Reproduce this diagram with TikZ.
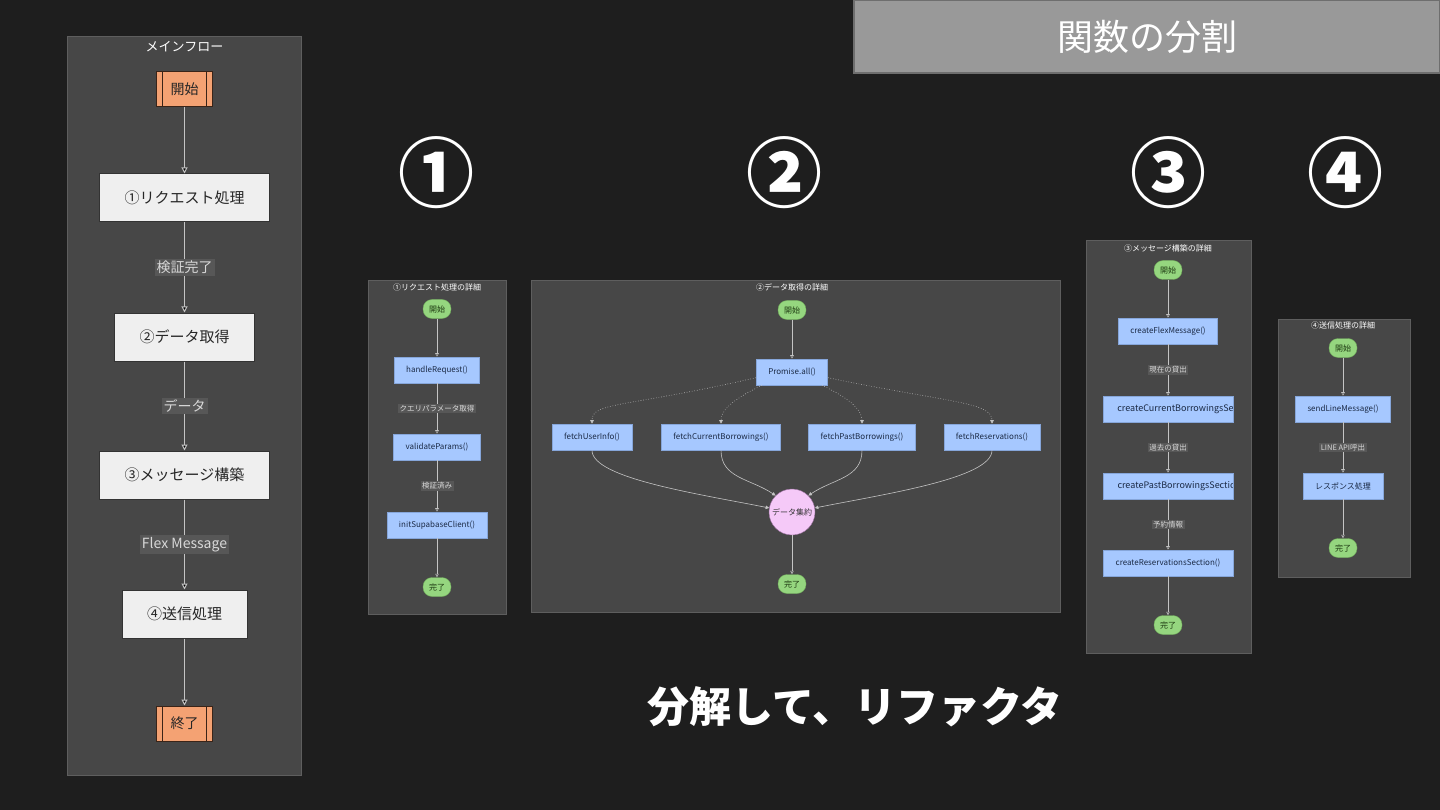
\documentclass[tikz,border=0pt]{standalone}
\usepackage{fontspec}
\setmainfont{Noto Sans CJK JP}
\usetikzlibrary{arrows.meta}
\definecolor{bgdark}{HTML}{1E1E1E}
\definecolor{panelfill}{HTML}{474747}
\definecolor{paneledge}{HTML}{5E5E5E}
\definecolor{termfill}{HTML}{F4A273}
\definecolor{termedge}{HTML}{3A2418}
\definecolor{stepfill}{HTML}{EFEFEF}
\definecolor{stepedge}{HTML}{333333}
\definecolor{fnfill}{HTML}{A6C8FF}
\definecolor{fnedge}{HTML}{86A6DA}
\definecolor{fntext}{HTML}{1B2A45}
\definecolor{pillfill}{HTML}{95D67F}
\definecolor{pilledge}{HTML}{6FA85A}
\definecolor{pilltext}{HTML}{1E3A12}
\definecolor{joinfill}{HTML}{F5C9F8}
\definecolor{joinedge}{HTML}{9B6FA0}
\definecolor{linkgray}{HTML}{C4C4C4}
\definecolor{tagfill}{HTML}{575757}
\definecolor{tagtext}{HTML}{D8D8D8}
\definecolor{headfill}{HTML}{999999}
\definecolor{headedge}{HTML}{6E6E6E}
\tikzset{
  panel/.style={draw=paneledge, fill=panelfill, line width=1pt},
  paneltitle/.style={text=white, inner sep=1pt, font=\fontsize{8}{9}\selectfont},
  term/.style={draw=termedge, fill=termfill, line width=1pt, minimum width=56pt,
    minimum height=35pt, text=black!85, font=\fontsize{14}{16}\selectfont,
    path picture={\draw[termedge, line width=1pt]
      ([xshift=6pt]path picture bounding box.north west) -- ([xshift=6pt]path picture bounding box.south west)
      ([xshift=-6pt]path picture bounding box.north east) -- ([xshift=-6pt]path picture bounding box.south east);}},
  stepbox/.style={draw=stepedge, fill=stepfill, line width=1pt, inner xsep=25pt,
    minimum height=48pt, text=black!85, font=\fontsize{15}{17}\selectfont},
  mainlink/.style={draw=linkgray, line width=1pt, -{Triangle[length=6pt,width=6pt]}},
  maintag/.style={fill=tagfill, text=tagtext, inner sep=2pt, font=\fontsize{14}{16}\selectfont},
  fnbox/.style={draw=fnedge, fill=fnfill, line width=0.6pt, inner xsep=12pt,
    minimum height=26pt, text=fntext, font=\fontsize{8}{9}\selectfont},
  cutbox/.style={fnbox, minimum width=130pt,
    path picture={\node[anchor=west, inner sep=0pt, text=fntext, font=\fontsize{9}{10}\selectfont]
      at ([xshift=14pt]path picture bounding box.west) {#1};}},
  pill/.style={draw=pilledge, fill=pillfill, rounded corners=9pt, minimum height=19pt,
    minimum width=28pt, inner xsep=4pt, text=pilltext, font=\fontsize{8}{9}\selectfont},
  joinnode/.style={circle, draw=joinedge, fill=joinfill, minimum size=46pt, inner sep=0pt,
    text=black!80, font=\fontsize{8}{9}\selectfont},
  sublink/.style={draw=linkgray, line width=0.6pt, -{Triangle[length=3.5pt,width=3.5pt]}},
  subtag/.style={fill=tagfill, text=tagtext, inner sep=1.5pt, font=\fontsize{7.5}{9}\selectfont},
  headbox/.style={draw=headedge, fill=headfill, line width=1.5pt, text=white,
    minimum width=586pt, minimum height=73pt, font=\fontsize{36}{40}\selectfont},
  bignum/.style={text=white, font=\fontsize{76}{80}\selectfont\bfseries}
}
\begin{document}
\begin{tikzpicture}[x=1pt,y=1pt]
  \fill[bgdark] (0,0) rectangle (1440,-810);
  \useasboundingbox (0,0) rectangle (1440,-810);
  \node[headbox] (head) at (1147,-36.5) {関数の分割};

  \draw[panel] (67,-37) rectangle (301,-775);
  \node[paneltitle, font=\fontsize{13}{15}\selectfont] (mtitle) at (184.5,-47) {メインフロー};
  \node[term] (mstart) at (184.5,-89) {開始};
  \node[stepbox] (mreq) at (184.5,-198) {①リクエスト処理};
  \node[stepbox] (mfetch) at (184.5,-337) {②データ取得};
  \node[stepbox] (mbuild) at (184.5,-475) {③メッセージ構築};
  \node[stepbox] (msend) at (184.5,-614) {④送信処理};
  \node[term] (mstop) at (184.5,-723.5) {終了};
  \path[mainlink]
    (mstart) edge (mreq)
    (mreq) edge node[maintag] {検証完了} (mfetch)
    (mfetch) edge node[maintag] {データ} (mbuild)
    (mbuild) edge node[maintag] {Flex Message} (msend)
    (msend) edge (mstop);

  \node[bignum] (num1) at (436,-173) {①};
  \node[bignum] (num2) at (784,-173) {②};
  \node[bignum] (num3) at (1168,-173) {③};
  \node[bignum] (num4) at (1345,-173) {④};

  \draw[panel] (368,-281) rectangle (506,-614);
  \node[paneltitle] (rtitle) at (437,-287) {①リクエスト処理の詳細};
  \node[pill] (rstart) at (437,-309) {開始};
  \node[fnbox] (rhandle) at (437,-370) {handleRequest()};
  \node[fnbox] (rvalid) at (437,-447) {validateParams()};
  \node[fnbox] (rinit) at (437,-525) {initSupabaseClient()};
  \node[pill] (rdone) at (437,-587) {完了};
  \path[sublink]
    (rstart) edge (rhandle)
    (rhandle) edge node[subtag] {クエリパラメータ取得} (rvalid)
    (rvalid) edge node[subtag] {検証済み} (rinit)
    (rinit) edge (rdone);

  \draw[panel] (531,-281) rectangle (1060,-612);
  \node[paneltitle] (dtitle) at (792,-287) {②データ取得の詳細};
  \node[pill] (dstart) at (792,-310) {開始};
  \node[fnbox] (dall) at (792,-372) {Promise.all()};
  \node[fnbox] (duser) at (592,-437) {fetchUserInfo()};
  \node[fnbox] (dcur) at (721,-437) {fetchCurrentBorrowings()};
  \node[fnbox] (dpast) at (862,-437) {fetchPastBorrowings()};
  \node[fnbox] (dresv) at (992,-437) {fetchReservations()};
  \node[joinnode] (dagg) at (792,-512) {データ集約};
  \node[pill] (ddone) at (792,-584) {完了};
  \path[sublink]
    (dstart) edge (dall)
    (dagg) edge (ddone);
  \draw[sublink, dotted] (dall.189) .. controls +(-130,-30) and +(0,22) .. (duser.north);
  \draw[sublink, dotted] ([xshift=6pt]dall.south west) .. controls +(-25,-12) and +(0,15) .. (dcur.north);
  \draw[sublink, dotted] ([xshift=-6pt]dall.south east) .. controls +(25,-12) and +(0,15) .. (dpast.north);
  \draw[sublink, dotted] (dall.351) .. controls +(120,-25) and +(0,22) .. (dresv.north);
  \draw[sublink] (duser.south) .. controls +(0,-28) and +(-70,14) .. (dagg.170);
  \draw[sublink] (dcur.south) .. controls +(0,-28) and +(-25,17) .. (dagg.135);
  \draw[sublink] (dpast.south) .. controls +(0,-28) and +(25,17) .. (dagg.45);
  \draw[sublink] (dresv.south) .. controls +(0,-28) and +(70,14) .. (dagg.10);

  \draw[panel] (1086,-241) rectangle (1251,-653);
  \node[paneltitle] (btitle) at (1168,-248) {③メッセージ構築の詳細};
  \node[pill] (bstart) at (1168,-270) {開始};
  \node[fnbox] (bflex) at (1168,-331) {createFlexMessage()};
  \node[cutbox={createCurrentBorrowingsSection()}] (bcur) at (1168,-409) {};
  \node[cutbox={createPastBorrowingsSection()}] (bpast) at (1168,-486) {};
  \node[fnbox, minimum width=130pt] (bresv) at (1168,-563) {createReservationsSection()};
  \node[pill] (bdone) at (1168,-625) {完了};
  \path[sublink]
    (bstart) edge (bflex)
    (bflex) edge node[subtag] {現在の貸出} (bcur)
    (bcur) edge node[subtag] {過去の貸出} (bpast)
    (bpast) edge node[subtag] {予約情報} (bresv)
    (bresv) edge (bdone);

  \draw[panel] (1278,-319) rectangle (1410,-577);
  \node[paneltitle] (stitle) at (1343,-325) {④送信処理の詳細};
  \node[pill] (sstart) at (1343,-348) {開始};
  \node[fnbox] (sline) at (1343,-409) {sendLineMessage()};
  \node[fnbox] (sresp) at (1343,-486) {レスポンス処理};
  \node[pill] (sdone) at (1343,-548) {完了};
  \path[sublink]
    (sstart) edge (sline)
    (sline) edge node[subtag] {LINE API呼出} (sresp)
    (sresp) edge (sdone);

  \node[text=white, font=\fontsize{42}{46}\selectfont\bfseries] (tagline) at (855,-707) {分解して、リファクタ};
\end{tikzpicture}
\end{document}
